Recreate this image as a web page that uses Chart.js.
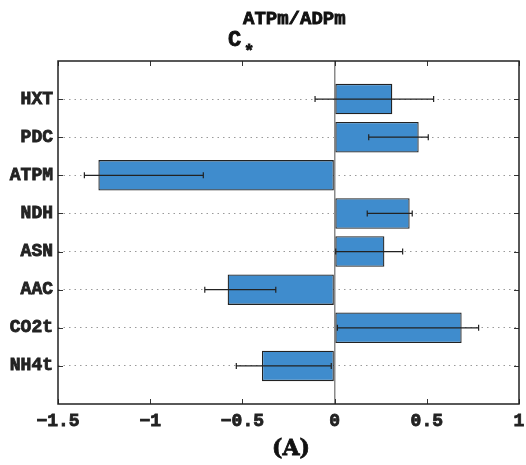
<!DOCTYPE html>
<html>
<head>
<meta charset="utf-8">
<script src="https://cdn.jsdelivr.net/npm/chart.js@4"></script>
<style>
  html, body { margin: 0; padding: 0; background: #fff; }
  #wrap { width: 526px; height: 465px; }
</style>
</head>
<body>
<div id="wrap"><canvas id="sensChart" width="526" height="465"></canvas></div>
<script>
// datos
const categorias = ["HXT", "PDC", "ATPM", "NDH", "ASN", "AAC", "CO2t", "NH4t"];
const valores = [0.313, 0.456, -1.281, 0.407, 0.270, -0.580, 0.689, -0.394];
const errorBajo = [-0.106, 0.185, -1.357, 0.177, 0.006, -0.704, 0.015, -0.533];
const errorAlto = [0.537, 0.508, -0.712, 0.421, 0.369, -0.319, 0.781, -0.018];
const ticksX = [-1.5, -1, -0.5, 0, 0.5, 1];

const MONO = "'Liberation Mono', 'DejaVu Sans Mono', monospace";

// una categoría vacía arriba y abajo, como en el original
const etiquetas = [""].concat(categorias, [""]);
const datos = [null].concat(valores, [null]);

function textoGrueso(ctx, txt, x, y) {
  ctx.strokeText(txt, x, y);
  ctx.fillText(txt, x, y);
}

const frameAndErrors = {
  id: "frameAndErrors",
  afterDatasetsDraw(chart) {
    const { ctx, chartArea: a, scales } = chart;
    const x = scales.x, y = scales.y;
    ctx.save();
    // barras de error
    ctx.strokeStyle = "#222";
    ctx.lineWidth = 1.2;
    categorias.forEach((c, i) => {
      const py = y.getPixelForValue(i + 1);
      const x1 = x.getPixelForValue(errorBajo[i]);
      const x2 = x.getPixelForValue(errorAlto[i]);
      ctx.beginPath();
      ctx.moveTo(x1, py); ctx.lineTo(x2, py);
      ctx.moveTo(x1, py - 3); ctx.lineTo(x1, py + 3);
      ctx.moveTo(x2, py - 3); ctx.lineTo(x2, py + 3);
      ctx.stroke();
    });
    // marcas hacia dentro
    ctx.strokeStyle = "#333";
    ctx.lineWidth = 1;
    ticksX.forEach(v => {
      const px = Math.round(x.getPixelForValue(v)) + 0.5;
      ctx.beginPath();
      ctx.moveTo(px, a.top); ctx.lineTo(px, a.top + 5);
      ctx.moveTo(px, a.bottom); ctx.lineTo(px, a.bottom - 5);
      ctx.stroke();
    });
    categorias.forEach((c, i) => {
      const py = Math.round(y.getPixelForValue(i + 1)) + 0.5;
      ctx.beginPath();
      ctx.moveTo(a.left, py); ctx.lineTo(a.left + 5, py);
      ctx.moveTo(a.right, py); ctx.lineTo(a.right - 5, py);
      ctx.stroke();
    });
    // marco
    ctx.strokeStyle = "#222";
    ctx.lineWidth = 1.5;
    ctx.strokeRect(a.left, a.top, a.right - a.left, a.bottom - a.top);
    ctx.restore();
  },
  afterDraw(chart) {
    const { ctx } = chart;
    ctx.save();
    ctx.fillStyle = "#111";
    ctx.strokeStyle = "#111";
    ctx.lineWidth = 0.8;
    ctx.textBaseline = "alphabetic";
    ctx.textAlign = "left";
    ctx.font = "bold 22px " + MONO;
    textoGrueso(ctx, "C", 228, 46);
    ctx.font = "bold 19px " + MONO;
    textoGrueso(ctx, "ATPm/ADPm", 243, 24);
    ctx.font = "bold 17px " + MONO;
    textoGrueso(ctx, "*", 244, 56);
    ctx.textAlign = "center";
    ctx.font = "bold 22px 'DejaVu Serif', 'Liberation Serif', serif";
    textoGrueso(ctx, "(A)", 291, 455);
    ctx.restore();
  }
};

new Chart(document.getElementById("sensChart"), {
  type: "bar",
  data: {
    labels: etiquetas,
    datasets: [{
      data: datos,
      backgroundColor: "#3f8ccd",
      borderColor: "#222",
      borderWidth: 1.3,
      borderSkipped: false,
      barPercentage: 0.8,
      categoryPercentage: 1.0
    }]
  },
  options: {
    indexAxis: "y",
    responsive: false,
    animation: false,
    layout: { padding: { top: 61, right: 7, left: 0, bottom: 0 } },
    plugins: { legend: { display: false }, tooltip: { enabled: false } },
    scales: {
      x: {
        min: -1.5, max: 1,
        afterFit: s => { s.height = 61; s.paddingLeft = 0; s.paddingRight = 0; },
        afterBuildTicks: s => { s.ticks = ticksX.map(v => ({ value: v })); },
        border: { display: false },
        grid: {
          drawTicks: false,
          color: c => c.tick && c.tick.value === 0 ? "#8a8a8a" : "rgba(0,0,0,0)",
          lineWidth: 1.5
        },
        ticks: {
          padding: 7,
          color: "#222",
          textStrokeColor: "#222",
          textStrokeWidth: 0.8,
          font: { family: MONO, size: 18, weight: "bold" },
          callback: v => String(v).replace("-", "\u2212")
        }
      },
      y: {
        offset: false,
        afterFit: s => { s.width = 58; },
        border: { display: false, dash: [1.5, 4] },
        grid: {
          offset: false,
          drawTicks: false,
          color: c => c.index === 0 || c.index === etiquetas.length - 1 ? "rgba(0,0,0,0)" : "#9a9a9a",
          lineWidth: 1
        },
        ticks: {
          padding: 5,
          autoSkip: false,
          color: "#222",
          textStrokeColor: "#222",
          textStrokeWidth: 0.8,
          font: { family: MONO, size: 18, weight: "bold" }
        }
      }
    }
  },
  plugins: [frameAndErrors]
});
</script>
</body>
</html>
